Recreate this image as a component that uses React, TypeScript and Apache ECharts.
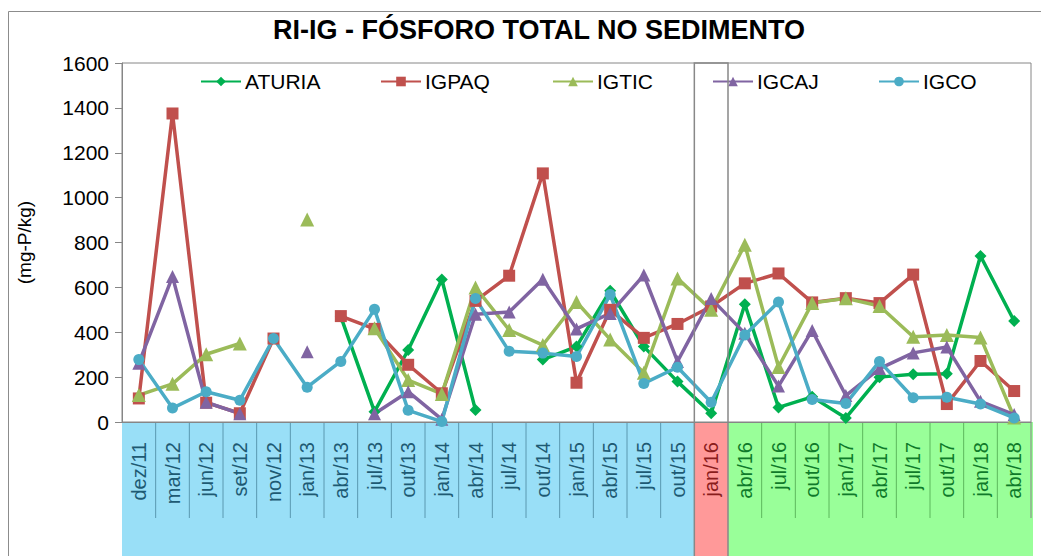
import React, { useEffect, useRef } from "react";
import * as echarts from "echarts";

const categories = [
  "dez/11", "mar/12", "jun/12", "set/12", "nov/12", "jan/13", "abr/13", "jul/13", "out/13",
  "jan/14", "abr/14", "jul/14", "out/14", "jan/15", "abr/15", "jul/15", "out/15", "jan/16",
  "abr/16", "jul/16", "out/16", "jan/17", "abr/17", "jul/17", "out/17", "jan/18", "abr/18",
];
const highlightCategory = "jan/16";

const aturia = [
  null, null, null, null, null, null, 470, 46, 321,
  635, 53, null, 278, 336, 585, 336, 180, 39,
  525, 65, 112, 18, 200, 213, 215, 740, 450,
];
const igpaq = [
  105, 1375, 86, 39, 372, null, 472, 415, 255,
  128, 540, 652, 1108, 175, 500, 375, 437, 515,
  618, 662, 533, 552, 530, 657, 80, 272, 138,
];
const igtic = [
  120, 170, 302, 350, null, 903, null, 418, 187,
  125, 600, 410, 343, 535, 368, 220, 640, 500,
  790, 245, 530, 551, 517, 380, 388, 377, 20,
];
const igcaj = [
  262, 648, 88, 37, null, 313, null, 37, 135,
  12, 480, 490, 636, 415, 484, 655, 270, 550,
  395, 160, 408, 118, 238, 308, 334, 92, 33,
];
const igco = [
  278, 62, 135, 97, 372, 155, 270, 502, 52,
  2, 550, 315, 307, 292, 568, 172, 244, 88,
  388, 535, 100, 82, 270, 108, 110, 80, 18,
];

const yMin = 0;
const yMax = 1600;
const yInterval = 200;

const FONT = "'Liberation Sans', Arial, sans-serif";

export default function App() {
  const ref = useRef<HTMLDivElement>(null);

  useEffect(() => {
    if (!ref.current) return;
    const chart = echarts.init(ref.current, null, { renderer: "svg" });
    const hi = categories.indexOf(highlightCategory);
    const phaseOf = (i: number) => (i < hi ? 0 : i === hi ? 1 : 2);
    const labelColors = ["#1E5A73", "#8A1C1C", "#0F7A2A"];

    const mk = (name: string, data: (number | null)[], color: string, symbol: string, size: number) => ({
      name,
      type: "line",
      data,
      connectNulls: false,
      symbol,
      symbolSize: size,
      showSymbol: true,
      lineStyle: { color, width: 3.5 },
      itemStyle: { color },
    });

    const series = [
      mk("ATURIA", aturia, "#00B050", "diamond", 12),
      mk("IGPAQ", igpaq, "#C0504D", "rect", 12),
      mk("IGTIC", igtic, "#9BBB59", "triangle", 14),
      mk("IGCAJ", igcaj, "#8064A2", "triangle", 13),
      mk("IGCO", igco, "#4BACC6", "circle", 11),
    ];

    const legendLefts = [195, 375, 547, 707, 873];
    const legends = series.map((s, k) => ({
      data: [s.name],
      left: legendLefts[k],
      top: 66,
      itemWidth: 40,
      itemHeight: 12,
      itemGap: 0,
      textStyle: { fontSize: 21, color: "#000", fontFamily: FONT, padding: [0, 0, 0, -1] },
    }));

    chart.setOption({
      animation: false,
      backgroundColor: "#fff",
      title: {
        text: "RI-IG - FÓSFORO TOTAL NO SEDIMENTO",
        left: 268,
        top: 11,
        textStyle: { fontSize: 27, fontWeight: "bold", color: "#000", fontFamily: FONT },
      },
      legend: legends,
      grid: {
        left: 122,
        right: 10,
        top: 63,
        bottom: 134,
        show: true,
        borderColor: "#868686",
        borderWidth: 1,
        backgroundColor: "transparent",
      },
      xAxis: {
        type: "category",
        data: categories,
        boundaryGap: true,
        axisLine: { show: true, lineStyle: { color: "#868686", width: 1 } },
        axisTick: { show: false },
        axisLabel: {
          rotate: 90,
          interval: 0,
          margin: 20,
          fontSize: 20,
          fontFamily: FONT,
          color: (_v: string, i: number) => labelColors[phaseOf(i)],
        },
        splitLine: { show: false },
      },
      yAxis: {
        type: "value",
        min: yMin,
        max: yMax,
        interval: yInterval,
        name: "(mg-P/kg)",
        nameLocation: "middle",
        nameGap: 88,
        nameTextStyle: { fontSize: 19, color: "#000", fontFamily: FONT },
        axisLine: { show: true, lineStyle: { color: "#868686", width: 1 } },
        axisTick: { show: true, inside: false, length: 7, lineStyle: { color: "#868686" } },
        axisLabel: {
          fontSize: 21,
          color: "#000",
          fontFamily: FONT,
          margin: 13,
          formatter: (v: number) => String(v),
        },
        splitLine: { show: false },
      },
      series,
    });

    // Decorative bands below the axis, computed from the axis scale
    const xc = (i: number) => chart.convertToPixel({ xAxisIndex: 0 }, i) as number;
    const y0 = chart.convertToPixel({ yAxisIndex: 0 }, yMin) as number;
    const yTop = chart.convertToPixel({ yAxisIndex: 0 }, yMax) as number;
    const w = xc(1) - xc(0);
    const edge = (i: number) => xc(i) - w / 2;
    const H = 556;
    const bandColors = ["#99DFF7", "#FF9999", "#99FF99"];
    const divColors = ["#5A98B0", "#777777", "#5DB85D"];
    const n = categories.length;

    const graphics: any[] = [];
    graphics.push({ type: "rect", z: -10, shape: { x: edge(0), y: y0, width: edge(hi) - edge(0), height: H - y0 }, style: { fill: bandColors[0] } });
    graphics.push({ type: "rect", z: -10, shape: { x: edge(hi), y: y0, width: w, height: H - y0 }, style: { fill: bandColors[1] } });
    graphics.push({ type: "rect", z: -10, shape: { x: edge(hi + 1), y: y0, width: edge(n - 1) + w - edge(hi + 1) + 2, height: H - y0 }, style: { fill: bandColors[2] } });
    for (let i = 1; i < n; i++) {
      if (i === hi || i === hi + 1) continue;
      graphics.push({
        type: "line",
        z: -5,
        shape: { x1: edge(i), y1: y0, x2: edge(i), y2: y0 + 96 },
        style: { stroke: divColors[phaseOf(i)], lineWidth: 1 },
      });
    }
    graphics.push({
      type: "line",
      z: -5,
      shape: { x1: edge(n - 1) + w, y1: y0, x2: edge(n - 1) + w, y2: y0 + 96 },
      style: { stroke: "#868686", lineWidth: 1 },
    });
    // box around highlighted column
    graphics.push({
      type: "rect",
      z: 5,
      shape: { x: edge(hi), y: yTop, width: w, height: H - yTop + 5 },
      style: { fill: "none", stroke: "#888888", lineWidth: 1.5 },
    });
    // outer chart border
    graphics.push({
      type: "rect",
      z: 5,
      shape: { x: 8.5, y: 11.5, width: 1040, height: 560 },
      style: { fill: "none", stroke: "#8C8C8C", lineWidth: 1 },
    });

    chart.setOption({ graphic: graphics });

    return () => chart.dispose();
  }, []);

  return (
    <div
      ref={ref}
      style={{ position: "absolute", left: 0, top: 0, width: 1041, height: 556 }}
    />
  );
}
